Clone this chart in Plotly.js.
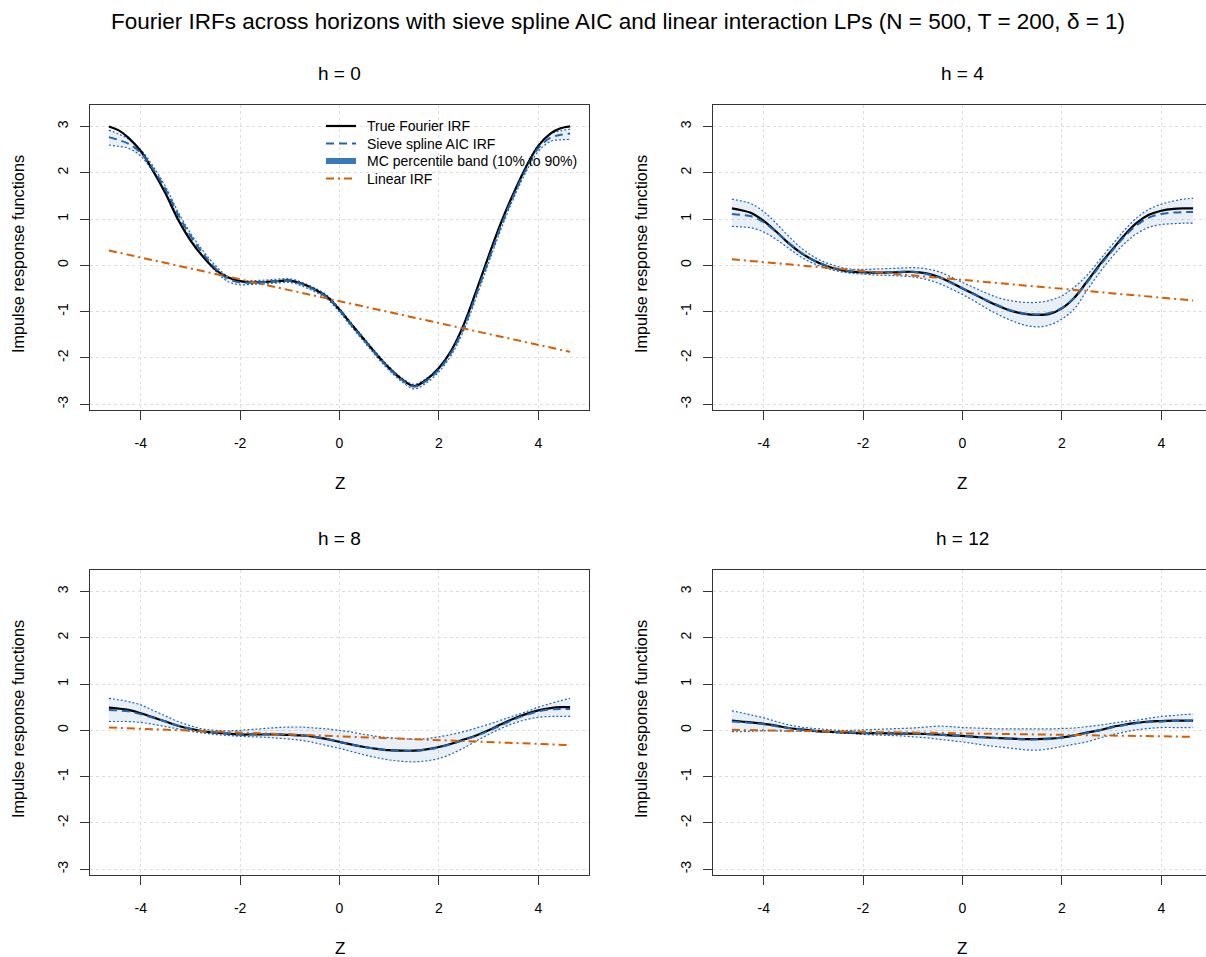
<!DOCTYPE html>
<html>
<head>
<meta charset="utf-8">
<script src="https://cdn.plot.ly/plotly-3.0.1.min.js"></script>
<style>html,body{margin:0;padding:0;background:#fff;}#chart{width:1206px;height:957px;}</style>
</head>
<body>
<div id="chart"></div>
<script>
// ---------- data ----------
const Z = [-4.64,-4.45,-4.25,-4.0,-3.75,-3.5,-3.25,-3.0,-2.75,-2.5,-2.25,-2.0,-1.75,-1.5,-1.25,-1.0,-0.75,-0.5,-0.25,0,0.25,0.5,0.75,1.0,1.25,1.5,1.75,2.0,2.25,2.5,2.75,3.0,3.25,3.5,3.75,4.0,4.25,4.45,4.64];
const horizons = ["h = 0","h = 4","h = 8","h = 12"];

const true_h0  = [3.00,2.92,2.76,2.47,2.04,1.55,0.99,0.54,0.19,-0.09,-0.26,-0.34,-0.37,-0.36,-0.34,-0.33,-0.40,-0.52,-0.68,-0.96,-1.29,-1.61,-1.93,-2.22,-2.46,-2.61,-2.47,-2.22,-1.84,-1.28,-0.56,0.20,0.92,1.55,2.12,2.58,2.85,2.96,3.00];
const sieve_h0 = [2.77,2.71,2.63,2.43,2.08,1.64,1.10,0.64,0.26,-0.06,-0.29,-0.37,-0.37,-0.36,-0.34,-0.33,-0.41,-0.53,-0.69,-0.97,-1.30,-1.62,-1.94,-2.23,-2.47,-2.62,-2.49,-2.25,-1.88,-1.34,-0.63,0.12,0.85,1.50,2.07,2.53,2.76,2.82,2.85];
const lo_h0    = [2.60,2.57,2.53,2.36,2.02,1.58,1.04,0.58,0.20,-0.12,-0.35,-0.42,-0.41,-0.40,-0.38,-0.37,-0.45,-0.57,-0.73,-1.01,-1.34,-1.66,-1.98,-2.27,-2.51,-2.67,-2.54,-2.30,-1.94,-1.41,-0.70,0.05,0.78,1.44,2.01,2.46,2.68,2.71,2.72];
const hi_h0    = [2.92,2.84,2.73,2.50,2.14,1.70,1.16,0.70,0.32,0.00,-0.24,-0.33,-0.33,-0.32,-0.30,-0.29,-0.37,-0.49,-0.65,-0.93,-1.26,-1.58,-1.90,-2.19,-2.43,-2.57,-2.44,-2.20,-1.82,-1.27,-0.56,0.19,0.92,1.56,2.13,2.60,2.84,2.91,2.94];

const true_h4  = [1.23,1.19,1.13,0.96,0.73,0.48,0.27,0.11,-0.01,-0.09,-0.135,-0.15,-0.16,-0.155,-0.145,-0.14,-0.17,-0.24,-0.36,-0.50,-0.63,-0.77,-0.89,-0.99,-1.05,-1.07,-1.05,-0.93,-0.70,-0.36,0.00,0.32,0.64,0.91,1.09,1.18,1.22,1.23,1.23];
const sieve_h4 = [1.11,1.09,1.06,0.93,0.72,0.49,0.28,0.11,0.00,-0.08,-0.13,-0.14,-0.15,-0.145,-0.14,-0.14,-0.18,-0.25,-0.37,-0.50,-0.63,-0.76,-0.88,-0.98,-1.04,-1.06,-1.03,-0.92,-0.70,-0.38,-0.03,0.30,0.61,0.86,1.03,1.11,1.14,1.15,1.15];
const lo_h4    = [0.84,0.83,0.81,0.72,0.56,0.37,0.18,0.04,-0.06,-0.13,-0.17,-0.19,-0.21,-0.22,-0.23,-0.25,-0.30,-0.38,-0.50,-0.63,-0.78,-0.94,-1.08,-1.20,-1.29,-1.33,-1.29,-1.16,-0.94,-0.55,-0.17,0.17,0.46,0.68,0.82,0.88,0.90,0.91,0.91];
const hi_h4    = [1.43,1.39,1.33,1.16,0.91,0.63,0.38,0.19,0.06,-0.03,-0.08,-0.09,-0.08,-0.07,-0.06,-0.05,-0.07,-0.13,-0.24,-0.37,-0.49,-0.61,-0.71,-0.77,-0.80,-0.80,-0.76,-0.66,-0.47,-0.22,0.10,0.43,0.75,1.02,1.21,1.32,1.39,1.43,1.45];

const true_h8  = [0.49,0.47,0.44,0.37,0.28,0.19,0.10,0.03,-0.02,-0.05,-0.07,-0.09,-0.09,-0.09,-0.09,-0.10,-0.11,-0.14,-0.19,-0.25,-0.31,-0.36,-0.40,-0.43,-0.44,-0.44,-0.41,-0.36,-0.29,-0.20,-0.11,0.00,0.13,0.25,0.35,0.43,0.48,0.50,0.50];
const sieve_h8 = [0.44,0.43,0.41,0.35,0.27,0.19,0.10,0.03,-0.02,-0.05,-0.07,-0.08,-0.08,-0.08,-0.08,-0.09,-0.11,-0.14,-0.19,-0.25,-0.31,-0.36,-0.40,-0.43,-0.44,-0.44,-0.42,-0.37,-0.30,-0.21,-0.12,-0.01,0.11,0.23,0.33,0.41,0.45,0.46,0.46];
const lo_h8    = [0.19,0.19,0.19,0.17,0.13,0.08,0.03,-0.02,-0.06,-0.09,-0.11,-0.13,-0.14,-0.15,-0.17,-0.19,-0.22,-0.27,-0.33,-0.39,-0.46,-0.53,-0.59,-0.64,-0.67,-0.68,-0.66,-0.61,-0.51,-0.38,-0.23,-0.09,0.04,0.15,0.23,0.28,0.30,0.30,0.30];
const hi_h8    = [0.69,0.66,0.62,0.55,0.43,0.31,0.19,0.10,0.03,0.00,-0.01,0.00,0.02,0.04,0.06,0.07,0.07,0.05,0.03,0.00,-0.04,-0.09,-0.13,-0.16,-0.18,-0.19,-0.18,-0.14,-0.09,-0.03,0.05,0.13,0.22,0.31,0.40,0.50,0.58,0.64,0.69];

const true_h12  = [0.21,0.19,0.17,0.14,0.10,0.05,0.02,-0.01,-0.03,-0.04,-0.05,-0.06,-0.06,-0.065,-0.07,-0.07,-0.08,-0.09,-0.11,-0.12,-0.14,-0.155,-0.17,-0.18,-0.19,-0.19,-0.18,-0.155,-0.11,-0.05,0.00,0.07,0.12,0.16,0.19,0.20,0.21,0.21,0.21];
const sieve_h12 = [0.19,0.18,0.16,0.13,0.09,0.05,0.02,-0.01,-0.03,-0.04,-0.05,-0.06,-0.06,-0.065,-0.07,-0.07,-0.08,-0.09,-0.11,-0.12,-0.14,-0.155,-0.17,-0.185,-0.195,-0.195,-0.185,-0.16,-0.115,-0.055,0.00,0.06,0.11,0.15,0.18,0.19,0.20,0.20,0.20];
const lo_h12    = [-0.03,-0.03,-0.02,-0.01,-0.01,-0.02,-0.02,-0.03,-0.04,-0.06,-0.07,-0.09,-0.10,-0.11,-0.12,-0.14,-0.16,-0.19,-0.22,-0.25,-0.29,-0.33,-0.36,-0.39,-0.42,-0.43,-0.40,-0.35,-0.30,-0.25,-0.17,-0.10,-0.04,0.01,0.04,0.06,0.06,0.06,0.06];
const hi_h12    = [0.42,0.38,0.33,0.27,0.19,0.12,0.07,0.04,0.02,0.00,0.00,0.01,0.02,0.03,0.04,0.05,0.07,0.09,0.08,0.06,0.05,0.04,0.03,0.03,0.03,0.03,0.03,0.04,0.05,0.08,0.11,0.15,0.19,0.22,0.26,0.30,0.32,0.34,0.35];

const linZ = [-4.64, 4.64];
const lin_h0  = [0.32, -1.87];
const lin_h4  = [0.13, -0.76];
const lin_h8  = [0.06, -0.32];
const lin_h12 = [0.01, -0.14];

const xTicks = [-4,-2,0,2,4];
const yTicks = [-3,-2,-1,0,1,2,3];
const legendNames = ["True Fourier IRF","Sieve spline AIC IRF","MC percentile band (10% to 90%)","Linear IRF"];
const mainTitle = "Fourier IRFs across horizons with sieve spline AIC and linear interaction LPs (N = 500, T = 200, δ = 1)";

// ---------- layout geometry ----------
const W = 1206, H = 957;
const px = v => v / W, py = v => 1 - v / H;
const FONT = "Liberation Sans, Arial, Helvetica, sans-serif";
const BLUE = "#2166AC", ORANGE = "#D55E00", BANDLEG = "#3A78BC";
const STY = {
  truth: {color: "#000", width: 2.2},
  sieve: {color: BLUE, width: 2, dash: "8px,5px"},
  band:  {color: BANDLEG, width: 6},
  lin:   {color: ORANGE, width: 2, dash: "8px,4px,2px,4px"}
};

const panels = [
  {name: horizons[0], tr: true_h0, sv: sieve_h0, lo: lo_h0, hi: hi_h0, ln: lin_h0, xd: [90, 589], yd: [104.7, 409.5], xr: [-5.02, 5.02], mirrorY: true},
  {name: horizons[1], tr: true_h4, sv: sieve_h4, lo: lo_h4, hi: hi_h4, ln: lin_h4, xd: [713, 1206], yd: [104.7, 409.5], xr: [-5.02, 4.9], mirrorY: false},
  {name: horizons[2], tr: true_h8, sv: sieve_h8, lo: lo_h8, hi: hi_h8, ln: lin_h8, xd: [90, 589], yd: [569.7, 874.5], xr: [-5.02, 5.02], mirrorY: true},
  {name: horizons[3], tr: true_h12, sv: sieve_h12, lo: lo_h12, hi: hi_h12, ln: lin_h12, xd: [713, 1206], yd: [569.7, 874.5], xr: [-5.02, 4.9], mirrorY: false}
];

const data = [];
const layout = {
  width: W, height: H, margin: {l: 0, r: 0, t: 0, b: 0},
  paper_bgcolor: "#fff", plot_bgcolor: "#fff",
  font: {family: FONT, color: "#000", size: 14},
  showlegend: false,
  annotations: [],
  shapes: [],
  title: {text: ""}
};

panels.forEach((p, i) => {
  const k = i === 0 ? "" : String(i + 1);
  const xa = "x" + k, ya = "y" + k;
  data.push({x: Z, y: p.lo, xaxis: xa, yaxis: ya, type: "scatter", mode: "lines", name: legendNames[2],
             line: {color: BLUE, width: 1.2, dash: "2px,2px", shape: "spline", smoothing: 1}, hoverinfo: "skip"});
  data.push({x: Z, y: p.hi, xaxis: xa, yaxis: ya, type: "scatter", mode: "lines", fill: "tonexty", name: legendNames[2],
             fillcolor: "rgba(33,102,172,0.10)",
             line: {color: BLUE, width: 1.2, dash: "2px,2px", shape: "spline", smoothing: 1}, hoverinfo: "skip"});
  data.push({x: Z, y: p.tr, xaxis: xa, yaxis: ya, type: "scatter", mode: "lines", name: legendNames[0],
             line: Object.assign({shape: "spline", smoothing: 1}, STY.truth)});
  data.push({x: Z, y: p.sv, xaxis: xa, yaxis: ya, type: "scatter", mode: "lines", name: legendNames[1],
             line: Object.assign({shape: "spline", smoothing: 1}, STY.sieve)});
  data.push({x: linZ, y: p.ln, xaxis: xa, yaxis: ya, type: "scatter", mode: "lines", name: legendNames[3],
             line: Object.assign({}, STY.lin)});

  const axCommon = {showline: true, linecolor: "#333", linewidth: 1, ticks: "outside", ticklen: 9,
                    tickcolor: "#333", tickwidth: 1, showgrid: true, gridcolor: "#dedede", griddash: "dot",
                    gridwidth: 1, zeroline: false, tickfont: {size: 14, family: FONT, color: "#000"}};
  layout["xaxis" + k] = Object.assign({}, axCommon, {
    domain: [px(p.xd[0]), px(p.xd[1])], anchor: ya, range: p.xr, tickmode: "array",
    tickvals: xTicks, ticktext: xTicks.map(String), mirror: true, ticklabelstandoff: 12
  });
  layout["yaxis" + k] = Object.assign({}, axCommon, {
    domain: [py(p.yd[1]), py(p.yd[0])], anchor: xa, range: [-3.115, 3.47], tickmode: "array",
    tickvals: yTicks, ticktext: yTicks.map(String), mirror: p.mirrorY, tickangle: -90, ticklabelstandoff: 6
  });
  const cx = p.xd[0] + (0 - p.xr[0]) / (p.xr[1] - p.xr[0]) * (p.xd[1] - p.xd[0]);
  layout.annotations.push({text: p.name, x: px(cx), y: py(p.yd[0] - 31), xref: "paper", yref: "paper",
                           xanchor: "center", yanchor: "middle", showarrow: false, font: {size: 19, family: FONT}});
  layout.annotations.push({text: "Z", x: px(cx), y: py(p.yd[1] + 74), xref: "paper", yref: "paper",
                           xanchor: "center", yanchor: "middle", showarrow: false, font: {size: 17, family: FONT}});
  layout.annotations.push({text: "Impulse response functions", x: px(p.xd[0] - 72), y: py((p.yd[0] + p.yd[1]) / 2 - 3),
                           xref: "paper", yref: "paper", xanchor: "center", yanchor: "middle", textangle: -90,
                           showarrow: false, font: {size: 16.3, family: FONT}});
});

// ---------- legend (drawn inside the h = 0 panel, like the reference) ----------
const legStyles = [STY.truth, STY.sieve, STY.band, STY.lin];
const legRowY = [126, 143.5, 161, 178.5];
legendNames.forEach((nm, j) => {
  const s = legStyles[j];
  layout.shapes.push({type: "line", xref: "paper", yref: "paper", x0: px(326), x1: px(356),
                      y0: py(legRowY[j]), y1: py(legRowY[j]),
                      line: {color: s.color, width: s.width, dash: s.dash || "solid"}});
  layout.annotations.push({text: nm, x: px(365), y: py(legRowY[j]), xref: "paper", yref: "paper",
                           xanchor: "left", yanchor: "middle", showarrow: false, font: {size: 14, family: FONT}});
});

layout.annotations.push({text: mainTitle, x: px(618), y: py(22), xref: "paper", yref: "paper",
                         xanchor: "center", yanchor: "middle", showarrow: false, font: {size: 22.5, family: FONT}});

Plotly.newPlot("chart", data, layout, {displayModeBar: false, staticPlot: true});
</script>
</body>
</html>
